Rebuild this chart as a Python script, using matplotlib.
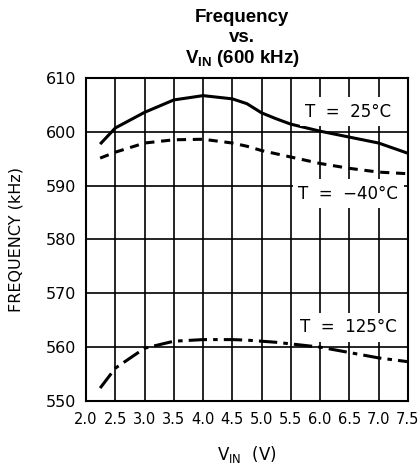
import matplotlib
matplotlib.use("Agg")
import matplotlib.pyplot as plt
import numpy as np

# data
vin = [2.24, 2.5, 3.0, 3.5, 4.0, 4.5, 4.75, 5.0, 5.25, 5.5, 6.0, 6.5, 7.0, 7.5]
f_25 = [597.7, 600.7, 603.6, 605.9, 606.7, 606.1, 605.2, 603.5, 602.4, 601.4, 600.1, 599.0, 597.9, 596.0]
f_m40 = [595.1, 596.2, 597.9, 598.5, 598.6, 597.9, 597.3, 596.5, 595.9, 595.3, 594.1, 593.2, 592.5, 592.2]
f_125 = [552.4, 556.1, 559.8, 561.1, 561.4, 561.4, 561.3, 561.1, 560.9, 560.6, 560.0, 559.0, 558.0, 557.3]

xticks = np.arange(2.0, 7.51, 0.5)
yticks = [550, 560, 570, 580, 590, 600, 610]

plt.rcParams['font.family'] = ['DejaVu Sans']

fig = plt.figure(figsize=(4.2, 4.69), dpi=100)
ax = fig.add_axes([0.205, 0.145, 0.766, 0.689])

ax.plot(vin, f_25, color='black', lw=2.2, solid_capstyle='butt')
ax.plot(vin, f_m40, color='black', lw=2.2, dashes=(3, 2.2))
ax.plot(vin, f_125, color='black', lw=2.2, dashes=(6, 2, 1.5, 2))

ax.set_xlim(2.0, 7.5)
ax.set_ylim(550, 610)
ax.set_xticks(xticks)
ax.set_xticklabels([f"{t:.1f}" for t in xticks])
ax.set_yticks(yticks)
ax.grid(True, color='black', lw=1.2)
ax.tick_params(axis='y', length=0, labelsize=11.5, pad=7)
ax.tick_params(axis='x', length=0, labelsize=10.5, pad=8)
for s in ax.spines.values():
    s.set_linewidth(1.5)

box = dict(facecolor='white', edgecolor='none', pad=4)
lab_kw = dict(ha='center', va='center', fontsize=12, bbox=box, zorder=5)
ax.text(6.48, 603.7, "T  =  25°C", **lab_kw)
ax.text(6.48, 588.5, "T  =  \u221240°C", **lab_kw)
ax.text(6.48, 563.7, "T  =  125°C", **lab_kw)

ax.set_ylabel("FREQUENCY (kHz)", fontsize=11.5, labelpad=16)
ax.set_xlabel("V$_{\\mathregular{IN}}$  (V)", fontsize=12, labelpad=12)

title_kw = dict(ha='center', va='center', fontsize=13.5, fontweight='bold',
                family=['Liberation Sans', 'DejaVu Sans'])
fig.text(0.577, 0.963, "Frequency", **title_kw)
fig.text(0.577, 0.920, "vs.", **title_kw)
fig.text(0.577, 0.876, "V$_{\\mathregular{IN}}$ (600 kHz)", **title_kw)

fig.savefig("out.png", dpi=100)
